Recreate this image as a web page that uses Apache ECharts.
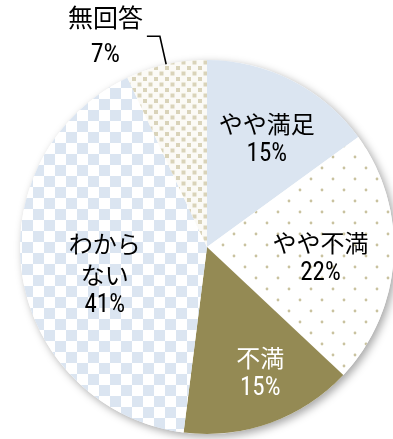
<!DOCTYPE html>
<html>
<head>
<meta charset="utf-8">
<script src="https://cdn.jsdelivr.net/npm/echarts@6/dist/echarts.min.js"></script>
<style>
  html, body { margin: 0; padding: 0; background: #fff; }
  #chart { width: 393px; height: 439px; }
</style>
</head>
<body>
<div id="chart"></div>
<script>
// Survey answers, clockwise from 12 o'clock
const categories = ['やや満足', 'やや不満', '不満', 'わからない', '無回答'];
const displayNames = ['やや満足', 'やや不満', '不満', 'わから\nない', '無回答'];
const percentages = [15, 22, 15, 41, 7];

// Fill patterns built on small canvases
function makeTile(size, draw) {
  const c = document.createElement('canvas');
  c.width = size; c.height = size;
  const g = c.getContext('2d');
  draw(g, size);
  return { image: c, repeat: 'repeat' };
}

const fillSolidBlue = '#dbe5f1';
const fillDots = makeTile(22, (g, s) => {
  g.fillStyle = '#ffffff'; g.fillRect(0, 0, s, s);
  g.fillStyle = '#c9c29f';
  [[3, 3], [14, 14]].forEach(([x, y]) => {
    g.beginPath(); g.arc(x, y, 1.4, 0, Math.PI * 2); g.fill();
  });
});
const fillOlive = '#948a54';
const fillChecker = makeTile(22, (g, s) => {
  g.fillStyle = '#ffffff'; g.fillRect(0, 0, s, s);
  g.fillStyle = '#dbe5f1';
  g.fillRect(0, 0, 11, 11);
  g.fillRect(11, 11, 11, 11);
});
const fillSquares = makeTile(11, (g, s) => {
  g.fillStyle = '#fbfaf6'; g.fillRect(0, 0, s, s);
  g.fillStyle = '#d9d3b9';
  g.fillRect(0, 0, 4, 4);
  g.fillRect(5.5, 5.5, 4, 4);
});
const fills = [fillSolidBlue, fillDots, fillOlive, fillChecker, fillSquares];
const textColors = ['#000', '#000', '#fff', '#000', '#000'];

const CX = 207, CY = 247, R = 187;
// radial fraction and angular nudge (deg) for the labels placed inside the slices
const insidePlacement = [[0.66, 2], [0.61, 2], [0.735, -3], [0.566, -6]];

const total = percentages.reduce((a, b) => a + b, 0);
const midAngles = [];
let acc = 0;
percentages.forEach(v => { midAngles.push((acc + v / 2) / total * 360); acc += v; });

const cjk = "'Noto Sans CJK JP', 'Noto Sans', sans-serif";
const narrow = "'Roboto Condensed', 'Liberation Sans Narrow', 'DejaVu Sans Condensed', 'DejaVu Sans', 'Noto Sans CJK JP', sans-serif";

function richFor(color, size, lh) {
  return {
    n: { fontFamily: cjk, fontSize: size, lineHeight: lh, color: color, align: 'center' },
    p: { fontFamily: narrow, fontStyle: 'normal condensed', fontSize: size + 1, lineHeight: lh, color: color, align: 'center' }
  };
}

const pieData = categories.map((name, i) => {
  const inside = i < 4;
  return {
    name: name,
    value: percentages[i],
    itemStyle: { color: fills[i] },
    label: {
      show: true,
      position: inside ? 'inside' : 'outside',
      rich: inside ? richFor(textColors[i], 24, 31) : richFor(textColors[i], 25, 38)
    },
    labelLine: {
      show: !inside,
      length: 29,
      length2: 13,
      lineStyle: { color: '#000', width: 1.6 }
    }
  };
});

const chart = echarts.init(document.getElementById('chart'), null, { renderer: 'canvas' });
chart.setOption({
  backgroundColor: '#ffffff',
  animation: false,
  series: [
    {
      // shadow disc under the slices
      type: 'pie',
      silent: true,
      center: [CX, CY],
      radius: R,
      z: 1,
      label: { show: false },
      labelLine: { show: false },
      itemStyle: {
        color: '#ffffff',
        shadowBlur: 8,
        shadowOffsetX: 3,
        shadowOffsetY: 3,
        shadowColor: 'rgba(0,0,0,0.35)'
      },
      data: [{ value: total, name: '' }]
    },
    {
      type: 'pie',
      center: [CX, CY],
      radius: R,
      startAngle: 90,
      clockwise: true,
      z: 2,
      avoidLabelOverlap: false,
      label: {
        formatter: p => {
          const lines = displayNames[p.dataIndex].split('\n').map(t => '{n|' + t + '}');
          lines.push('{p|' + p.value + '%}');
          return lines.join('\n');
        },
        distanceToLabelLine: 4
      },
      labelLayout: params => {
        const i = params.dataIndex;
        if (i >= insidePlacement.length) return {};
        const [k, nudge] = insidePlacement[i];
        const a = (midAngles[i] + nudge) * Math.PI / 180;
        return {
          x: CX + k * R * Math.sin(a),
          y: CY - k * R * Math.cos(a),
          align: 'center',
          verticalAlign: 'middle'
        };
      },
      data: pieData
    }
  ]
});
</script>
</body>
</html>
